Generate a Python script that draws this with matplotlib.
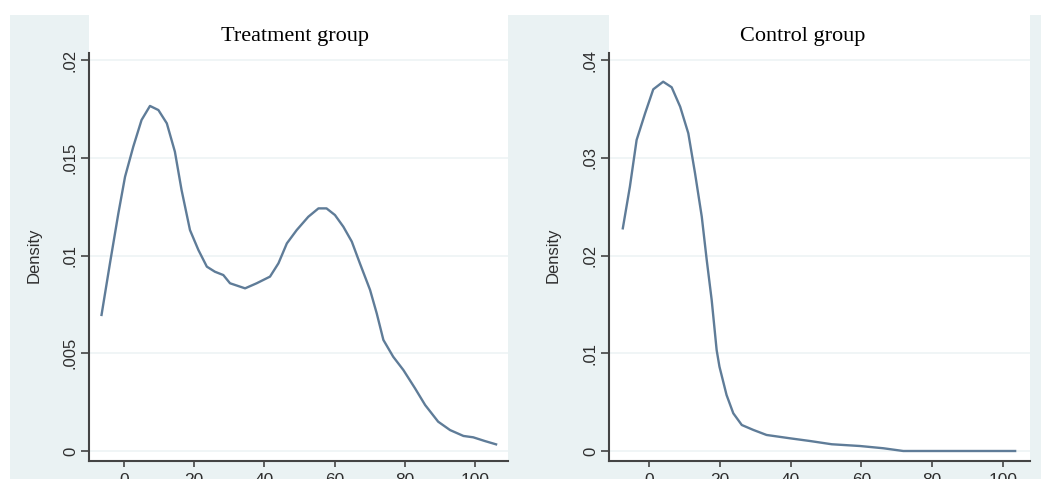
import matplotlib
matplotlib.use("Agg")
import matplotlib.pyplot as plt
from matplotlib.patches import Rectangle

# density estimates
treat_x = [-6.4, -4.0, -1.6, 0.3, 2.65, 5.0, 7.4, 9.8, 12.2, 14.5, 16.4, 18.8, 21.2,
           23.6, 25.9, 28.3, 30.2, 34.5, 37.8, 41.6, 44.0, 46.4, 49.2, 52.5, 55.4,
           57.7, 60.1, 62.5, 64.9, 67.2, 70.1, 72.0, 73.9, 76.7, 79.6, 82.9, 85.8,
           89.5, 92.9, 96.7, 99.5, 102.8, 106.0]
treat_y = [0.00696, 0.0096, 0.01216, 0.01403, 0.01557, 0.01693, 0.01765, 0.01744,
           0.01676, 0.01531, 0.01335, 0.0113, 0.01028, 0.00943, 0.00917, 0.0090,
           0.00858, 0.00832, 0.00858, 0.00892, 0.0096, 0.01062, 0.0113, 0.01198,
           0.01241, 0.01241, 0.01207, 0.01147, 0.01071, 0.0096, 0.00824, 0.00704,
           0.00568, 0.00482, 0.00414, 0.00321, 0.00235, 0.0015, 0.00107, 0.00077,
           0.0007, 0.00051, 0.00034]

ctrl_x = [-7.4, -5.4, -3.5, -1.1, 1.2, 4.0, 6.4, 8.8, 11.1, 13.0, 14.9, 16.3, 17.7,
          19.1, 19.9, 21.9, 23.8, 26.2, 29.5, 33.2, 39.8, 45.5, 51.6, 59.6, 66.2,
          71.8, 82.7, 103.4]
ctrl_y = [0.02278, 0.02704, 0.03182, 0.03455, 0.0370, 0.03778, 0.03721, 0.03522,
          0.0325, 0.02841, 0.02397, 0.01954, 0.01545, 0.01033, 0.00862, 0.00573,
          0.00386, 0.00266, 0.00215, 0.00164, 0.0013, 0.00102, 0.00069, 0.00051,
          0.00028, 0.0, 0.0, 0.0]

treat_ticks = [0, 0.005, 0.01, 0.015, 0.02]
treat_labels = ["0", ".005", ".01", ".015", ".02"]
ctrl_ticks = [0, 0.01, 0.02, 0.03, 0.04]
ctrl_labels = ["0", ".01", ".02", ".03", ".04"]
x_ticks = [0, 20, 40, 60, 80, 100]

BG = "#eaf2f3"
LINE = "#5f7c98"
W, H = 1041, 479

fig = plt.figure(figsize=(W / 100, H / 100), dpi=100)
fig.patch.set_facecolor("white")
fig.patches.append(Rectangle((10 / W, 0), 1 - 10 / W, (H - 15) / H,
                             transform=fig.transFigure, facecolor=BG,
                             edgecolor="none", zorder=-10))


def panel(px_left, px_right, xlim, ymax, xs, ys, yticks, ylabels, title, title_fx, lab_x):
    ax = fig.add_axes([px_left / W, (H - 461) / H, (px_right - px_left) / W, (461 - 15) / H])
    ax.set_facecolor("white")
    y0 = -10 / 391 * ymax
    y1 = ymax + 45 / 391 * ymax
    ax.set_xlim(*xlim)
    ax.set_ylim(y0, y1)
    for y in yticks:
        ax.axhline(y, color="#eef4f5", lw=1.2, zorder=0)
    ax.plot(xs, ys, color=LINE, lw=1.7)
    for s in ["top", "right"]:
        ax.spines[s].set_visible(False)
    for s in ["left", "bottom"]:
        ax.spines[s].set_color("#444444")
        ax.spines[s].set_linewidth(1.5)
    ax.spines["left"].set_bounds(y0, ymax + 7 / 391 * ymax)
    ax.set_yticks(yticks)
    ax.set_yticklabels(ylabels, rotation=90, va="center",
                       fontfamily="Liberation Sans", fontsize=12, color="#2e2e2e")
    ax.set_xticks(x_ticks)
    ax.set_xticklabels([str(t) for t in x_ticks], fontfamily="Liberation Sans",
                       fontsize=12.5, color="#2e2e2e")
    ax.tick_params(axis="y", length=6, width=1.2, color="#444444", pad=2)
    ax.tick_params(axis="x", length=4, width=1.2, color="#444444", pad=4.5)
    ax.set_ylabel("Density", fontfamily="Liberation Sans", fontsize=12, color="#2e2e2e")
    ax.yaxis.set_label_coords(lab_x, 0.462)
    ax.text(title_fx, (461 - 41) / 446, title, transform=ax.transAxes,
            ha="center", va="baseline", fontfamily="Liberation Serif", fontsize=16)
    return ax


panel(89, 508, (-9.97, 109.4), 0.02, treat_x, treat_y, treat_ticks, treat_labels,
      "Treatment group", 0.4916, (42 - 89) / 419)
panel(609, 1030, (-11.3, 107.6), 0.04, ctrl_x, ctrl_y, ctrl_ticks, ctrl_labels,
      "Control group", 0.461, (561 - 609) / 421)

fig.savefig("out.png", dpi=100)
